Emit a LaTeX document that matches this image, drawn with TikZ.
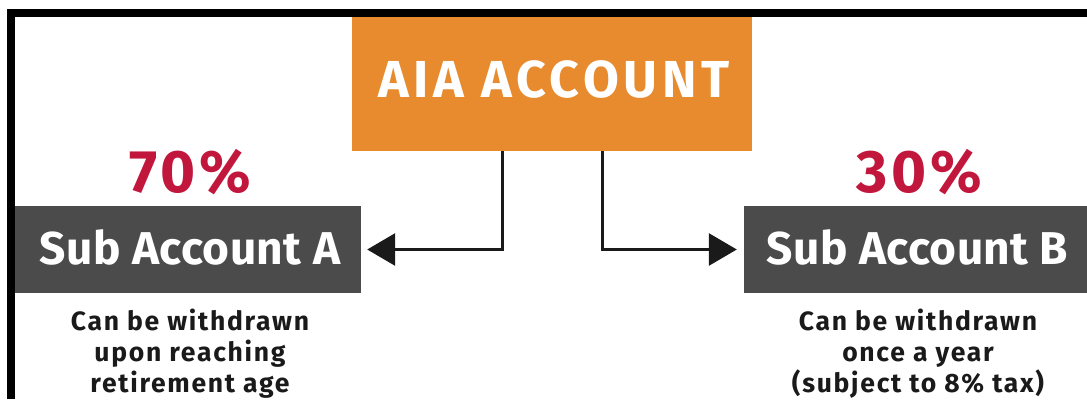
\documentclass[tikz,border=0pt]{standalone}
\usepackage{fontspec}
\setmainfont{Fira Sans}
\usetikzlibrary{arrows.meta}
\definecolor{aiaorange}{HTML}{E88B2E}
\definecolor{subgray}{HTML}{4B4B4B}
\definecolor{pctred}{HTML}{C2173D}
\definecolor{txtblack}{HTML}{1A1A1A}
\tikzset{
  orangebox/.style={fill=aiaorange, draw=none, minimum width=400pt, minimum height=134pt, inner sep=0pt,
    text=white, font=\fontsize{52}{60}\selectfont\bfseries\addfontfeature{LetterSpace=9}, text depth=10pt},
  graybox/.style={fill=subgray, draw=none, minimum height=87pt, inner sep=0pt,
    text=white, font=\fontsize{46}{52}\selectfont\bfseries\addfontfeature{LetterSpace=1}, text depth=4pt},
  pct/.style={text=pctred, font=\fontsize{60}{64}\selectfont\bfseries\addfontfeature{LetterSpace=6}, inner sep=0pt, anchor=base},
  desc/.style={text=txtblack, font=\fontsize{26.5}{31}\selectfont\bfseries\addfontfeature{LetterSpace=6.5}, align=center, inner sep=0pt, anchor=north},
  conn/.style={line width=3pt, -{Triangle[length=28pt,width=32pt]}, txtblack},
}
\begin{document}
\begin{tikzpicture}[x=1pt,y=-1pt]
\useasboundingbox (0,0) rectangle (1087,399);
\fill[white] (0,0) rectangle (1087,399);
\node[orangebox] (aia) at (552,84) {\hspace*{4pt}AIA ACCOUNT};
\draw[line width=8pt, black] (11,399) -- (11,13) -- (1087,13);
\node[graybox, minimum width=346pt] (subA) at (188,249.5) {\hspace*{4pt}Sub Account A};
\node[graybox, minimum width=343pt] (subB) at (915.5,249.5) {\hspace*{4pt}Sub Account B};
\node[pct] (pA) at (190.5,192) {70\%};
\node[pct] (pB) at (919.5,192) {30\%};
\node[desc] (dA) at (190,309) {Can be withdrawn\\upon reaching\\retirement age};
\node[desc] (dB) at (918,309) {Can be withdrawn\\once a year\\(subject to 8\% tax)};
\draw[conn, shorten >=6pt] ([xshift=-50pt]aia.south) |- (subA.east);
\draw[conn, shorten >=7pt] ([xshift=50pt]aia.south) |- (subB.west);
\end{tikzpicture}
\end{document}
